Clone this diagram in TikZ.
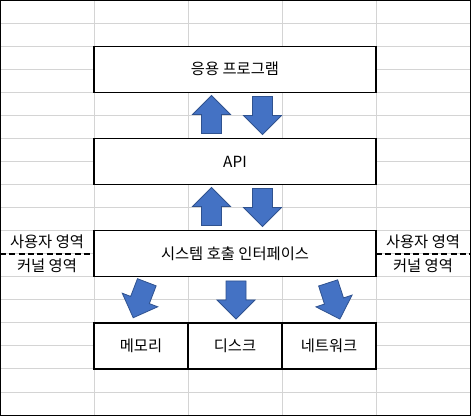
\documentclass[tikz,border=0pt]{standalone}
\usepackage{fontspec}
\setmainfont{Noto Sans CJK KR}
\definecolor{gridgray}{HTML}{D4D4D4}
\definecolor{arrowfill}{HTML}{4472C4}
\definecolor{arrowline}{HTML}{2F528F}
\tikzset{
  gridline/.style={draw=gridgray, line width=0.75pt},
  box/.style={draw=black, fill=white, line width=1pt, inner sep=0pt, outer sep=0pt,
    font=\fontsize{11.5pt}{13.5pt}\selectfont},
  bigbox/.style={box, minimum width=211.5pt, minimum height=34.5pt},
  smallbox/.style={box, minimum width=70.5pt, minimum height=34.5pt},
  sidelabel/.style={inner sep=0pt, font=\fontsize{11.5pt}{13.5pt}\selectfont},
  regionline/.style={draw=black, line width=1.5pt, dash pattern=on 4.5pt off 2.5pt},
  blockarrow/.pic={
    \filldraw[fill=arrowfill, draw=arrowline, line width=0.6pt]
      (-10,-19) -- (10,-19) -- (10,0) -- (19,0) -- (0,19) -- (-19,0) -- (-10,0) -- cycle;
  }
}
\begin{document}
\begin{tikzpicture}[x=0.75pt,y=-0.75pt]
\useasboundingbox (0,0) rectangle (471,416);
% grid
\foreach \i in {1,...,17} {
  \draw[gridline] (0,\i*23.06) -- (471,\i*23.06);
}
\foreach \xx in {94,188,282,376} {
  \draw[gridline] (\xx,0) -- (\xx,416);
}
\draw[line width=1pt] (0.5,0.5) rectangle (470.5,415.5);

% boxes
\node[bigbox] (app) at (235,69.2) {응용 프로그램};
\node[bigbox] (api) at (235,161.4) {API};
\node[bigbox] (sci) at (235,253.7) {시스템 호출 인터페이스};
\node[smallbox] (mem) at (141,346) {메모리};
\node[smallbox] (disk) at (235,346) {디스크};
\node[smallbox] (net) at (329,346) {네트워크};

% region labels
\coordinate (lL) at (0,253.7);
\coordinate (lR) at (94,253.7);
\coordinate (rL) at (376,253.7);
\coordinate (rR) at (471,253.7);
\draw[regionline] (lL) -- (lR);
\draw[regionline] (rL) -- (rR);
\node[sidelabel] (userL) at (47,241.5) {사용자 영역};
\node[sidelabel] (kernL) at (47,265.5) {커널 영역};
\node[sidelabel] (userR) at (423,241.5) {사용자 영역};
\node[sidelabel] (kernR) at (423,265.5) {커널 영역};

% arrows
\pic[rotate=180] at (211.5,114.5) {blockarrow};
\pic at (262.5,115.5) {blockarrow};
\pic[rotate=180] at (211.5,206.5) {blockarrow};
\pic at (262.5,207.5) {blockarrow};
\pic[rotate=-21] at (140,300) {blockarrow};
\pic at (236,300) {blockarrow};
\pic[rotate=18] at (334,301) {blockarrow};
\end{tikzpicture}
\end{document}
